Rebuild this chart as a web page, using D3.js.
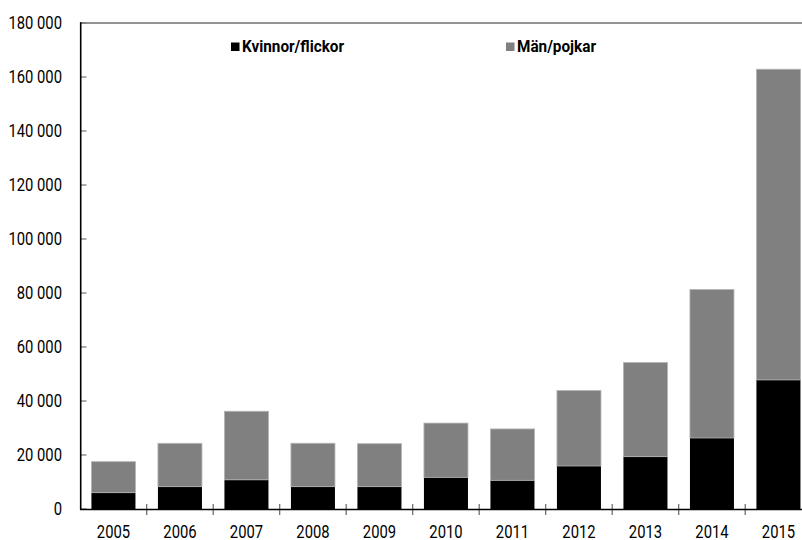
<!DOCTYPE html>
<html>
<head>
<meta charset="utf-8">
<script src="https://cdn.jsdelivr.net/npm/d3@7"></script>
<style>
  html, body { margin: 0; padding: 0; background: #fff; }
  svg { display: block; }
  .lbl { font-family: Roboto, "Liberation Sans", sans-serif; font-size: 18.5px; fill: #000; }
  .leg { font-family: Roboto, "Liberation Sans", sans-serif; font-size: 17px; font-weight: bold; fill: #000; }
</style>
</head>
<body>
<svg id="chart" width="802" height="540"></svg>
<script>
// Asylsökande per år, uppdelat på kön
const years = ["2005", "2006", "2007", "2008", "2009", "2010", "2011", "2012", "2013", "2014", "2015"];
const kvinnor = [6040, 8270, 10800, 8270, 8270, 11730, 10620, 15930, 19380, 26300, 47800];
const man = [11490, 16050, 25400, 16080, 15920, 20090, 19030, 27960, 34880, 55000, 115080];
const yTicks = [0, 20000, 40000, 60000, 80000, 100000, 120000, 140000, 160000, 180000];
const seriesNames = ["Kvinnor/flickor", "Män/pojkar"];
const seriesColors = ["#000000", "#808080"];

const svg = d3.select("#chart");
const W = 802;

const sv = d3.formatLocale({ decimal: ",", thousands: " ", grouping: [3], currency: ["", " kr"] });
const fmt = sv.format(",d");

// narrow the glyphs horizontally to get a condensed look
function condense(sel, k) {
  sel.each(function () {
    const w = this.getComputedTextLength();
    d3.select(this).attr("textLength", w * k).attr("lengthAdjust", "spacingAndGlyphs");
  });
}

const x = d3.scaleBand()
  .domain(years)
  .range([80.2, 811.7])
  .paddingInner(0.338)
  .paddingOuter(0.169);

const y = d3.scaleLinear()
  .domain([0, 180000])
  .range([509, 23]);

const rows = years.map((yr, i) => ({ year: yr, kvinnor: kvinnor[i], man: man[i] }));
const stack = d3.stack().keys(["kvinnor", "man"])(rows);

// bars
const layers = svg.append("g").selectAll("g")
  .data(stack)
  .join("g")
  .attr("fill", (d, i) => seriesColors[i]);

layers.each(function (layer, li) {
  d3.select(this).selectAll("rect")
    .data(layer)
    .join("rect")
    .attr("x", d => x(d.data.year))
    .attr("width", x.bandwidth())
    .attr("y", d => y(d[1]))
    .attr("height", d => y(d[0]) - y(d[1]))
    .attr("stroke", li === 1 ? "#b4b4b4" : "none")
    .attr("stroke-width", li === 1 ? 0.8 : 0);
});

// top frame line at the axis maximum
svg.append("line")
  .attr("x1", 80).attr("x2", W)
  .attr("y1", y(180000)).attr("y2", y(180000))
  .attr("stroke", "#707070").attr("stroke-width", 1.5);

// y axis labels
const yAxis = svg.append("g")
  .attr("transform", "translate(80,0)")
  .call(d3.axisLeft(y).tickValues(yTicks).tickSize(0).tickPadding(18).tickFormat(fmt));
yAxis.select(".domain").remove();
yAxis.selectAll("text").attr("class", "lbl").attr("font-family", null).attr("font-size", null)
  .call(condense, 0.8);

// y inner tick marks
svg.append("g").selectAll("line")
  .data(yTicks)
  .join("line")
  .attr("x1", 80).attr("x2", 86.5)
  .attr("y1", d => y(d)).attr("y2", d => y(d))
  .attr("stroke", "#777").attr("stroke-width", 1.2);

// y axis line
svg.append("line")
  .attr("x1", 80.7).attr("x2", 80.7)
  .attr("y1", y(180000) - 0.8).attr("y2", y(0) + 1)
  .attr("stroke", "#000").attr("stroke-width", 1.6);

// x axis labels
const xAxis = svg.append("g")
  .attr("transform", `translate(0,${y(0)})`)
  .call(d3.axisBottom(x).tickSize(0).tickPadding(16));
xAxis.select(".domain").remove();
xAxis.selectAll("text").attr("class", "lbl").attr("font-family", null).attr("font-size", null)
  .call(condense, 0.8);

// x category boundary ticks
svg.append("g").selectAll("line")
  .data(years.slice(1))
  .join("line")
  .attr("x1", d => x(d) - x.step() * x.paddingInner() / 2)
  .attr("x2", d => x(d) - x.step() * x.paddingInner() / 2)
  .attr("y1", y(0) - 5).attr("y2", y(0) + 6)
  .attr("stroke", "#666").attr("stroke-width", 1.2);

// x axis line
svg.append("line")
  .attr("x1", 80).attr("x2", W)
  .attr("y1", y(0) + 0.5).attr("y2", y(0) + 0.5)
  .attr("stroke", "#000").attr("stroke-width", 1.6);

// legend
const legendX = [231, 506];
const leg = svg.append("g").selectAll("g")
  .data(seriesNames)
  .join("g")
  .attr("transform", (d, i) => `translate(${legendX[i]},0)`);
leg.append("rect")
  .attr("x", 0).attr("y", 42.5).attr("width", 8.5).attr("height", 8.5)
  .attr("fill", (d, i) => seriesColors[i]);
leg.append("text")
  .attr("class", "leg")
  .attr("x", 11).attr("y", 52)
  .text(d => d)
  .call(condense, 0.9);
</script>
</body>
</html>
